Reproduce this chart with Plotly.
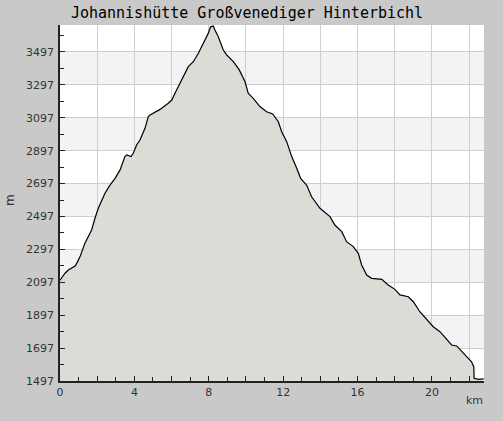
import plotly.graph_objects as go

# distance (km) and elevation (m)
km = [0.0, 0.27, 0.45, 0.81, 0.90, 1.08, 1.34, 1.52, 1.70, 1.88, 2.06, 2.42, 2.69, 2.96,
      3.23, 3.49, 3.59, 3.82, 3.94, 4.12, 4.30, 4.57, 4.75, 4.84, 5.02, 5.38, 5.82, 6.01,
      6.27, 6.54, 6.90, 7.17, 7.44, 7.70, 7.97, 8.10, 8.24, 8.33, 8.51, 8.78, 8.96, 9.32,
      9.64, 9.95, 10.12, 10.39, 10.75, 11.11, 11.44, 11.74, 11.92, 12.19, 12.46, 12.73,
      12.94, 13.26, 13.53, 13.98, 14.52, 14.78, 15.15, 15.41, 15.77, 16.04, 16.22, 16.49,
      16.76, 17.30, 17.65, 18.01, 18.28, 18.73, 19.00, 19.35, 20.07, 20.43, 21.06, 21.33,
      21.77, 22.13, 22.25, 22.27, 22.49, 22.78]
elev = [2110, 2152, 2172, 2196, 2212, 2253, 2334, 2374, 2415, 2486, 2547, 2638, 2688, 2729,
        2780, 2861, 2871, 2861, 2881, 2932, 2962, 3033, 3104, 3114, 3124, 3148, 3185, 3205,
        3266, 3327, 3408, 3438, 3489, 3549, 3610, 3650, 3655, 3631, 3590, 3509, 3479, 3438,
        3388, 3316, 3246, 3215, 3165, 3134, 3120, 3073, 3012, 2952, 2861, 2790,
        2729, 2688, 2617, 2547, 2496, 2445, 2405, 2344, 2314, 2273, 2202, 2141,
        2121, 2115, 2081, 2054, 2020, 2009, 1979, 1918, 1827, 1797, 1716, 1710,
        1655, 1614, 1584, 1513, 1507, 1510]

y_ticks = [1497, 1697, 1897, 2097, 2297, 2497, 2697, 2897, 3097, 3297, 3497]
x_ticks = [0, 2, 4, 6, 8, 10, 12, 14, 16, 18, 20, 22]
x_labels = ["0", "", "4", "", "8", "", "12", "", "16", "", "20", ""]

title = "Johannishütte Großvenediger Hinterbichl"

fig = go.Figure()
fig.add_trace(go.Scatter(
    x=km, y=elev, mode="lines", fill="tozeroy",
    fillcolor="#dcdbd6", line=dict(color="black", width=1.2),
    hoverinfo="skip", showlegend=False))

# alternating horizontal bands
shapes = []
for i in range(1, len(y_ticks) - 1, 2):
    shapes.append(dict(type="rect", xref="x", yref="y", x0=0, x1=22.8,
                       y0=y_ticks[i], y1=y_ticks[i + 1],
                       fillcolor="#f3f2f5", line=dict(width=0), layer="below"))

fig.update_layout(
    width=503, height=421,
    paper_bgcolor="#c9c9c9", plot_bgcolor="white",
    margin=dict(l=60, r=19, t=25, b=40),
    shapes=shapes,
    title=dict(text=title, x=247 / 503, xanchor="center", y=1 - 13 / 421, yanchor="middle",
               font=dict(family="DejaVu Sans Mono", size=15, color="black")),
    font=dict(family="DejaVu Sans", size=11, color="#333333"),
    xaxis=dict(range=[0, 22.8], tickvals=x_ticks, ticktext=x_labels,
               ticks="inside", ticklen=5, tickcolor="#222222",
               showgrid=True, gridcolor="#cfcfcf", gridwidth=1,
               showline=True, linecolor="#222222", linewidth=1.5,
               zeroline=False,
               minor=dict(dtick=1, tick0=0, ticks="inside", ticklen=4,
                          tickcolor="#222222", showgrid=False),
               tickfont=dict(size=11, color="#333333")),
    yaxis=dict(range=[1497, 3661], tickvals=y_ticks,
               ticks="inside", ticklen=5, tickcolor="#222222",
               showgrid=True, gridcolor="#cfcfcf", gridwidth=1,
               showline=True, linecolor="#222222", linewidth=1.5,
               zeroline=False, ticklabelstandoff=2,
               minor=dict(dtick=100, tick0=1497, ticks="inside", ticklen=4,
                          tickcolor="#222222", showgrid=False),
               tickfont=dict(size=11, color="#333333")),
    annotations=[
        dict(text="m", xref="paper", yref="paper", x=-50 / 424, y=(381 - 200) / 356,
             showarrow=False, textangle=-90, xanchor="center", yanchor="middle",
             font=dict(size=12, color="#333333")),
        dict(text="km", xref="paper", yref="paper", x=(474 - 60) / 424, y=-(400 - 381) / 356,
             showarrow=False, xanchor="center", yanchor="middle",
             font=dict(size=11, color="#333333")),
    ],
)

fig.write_html("out.html", config={"displayModeBar": False},
               post_script="document.body.style.margin='0';")
